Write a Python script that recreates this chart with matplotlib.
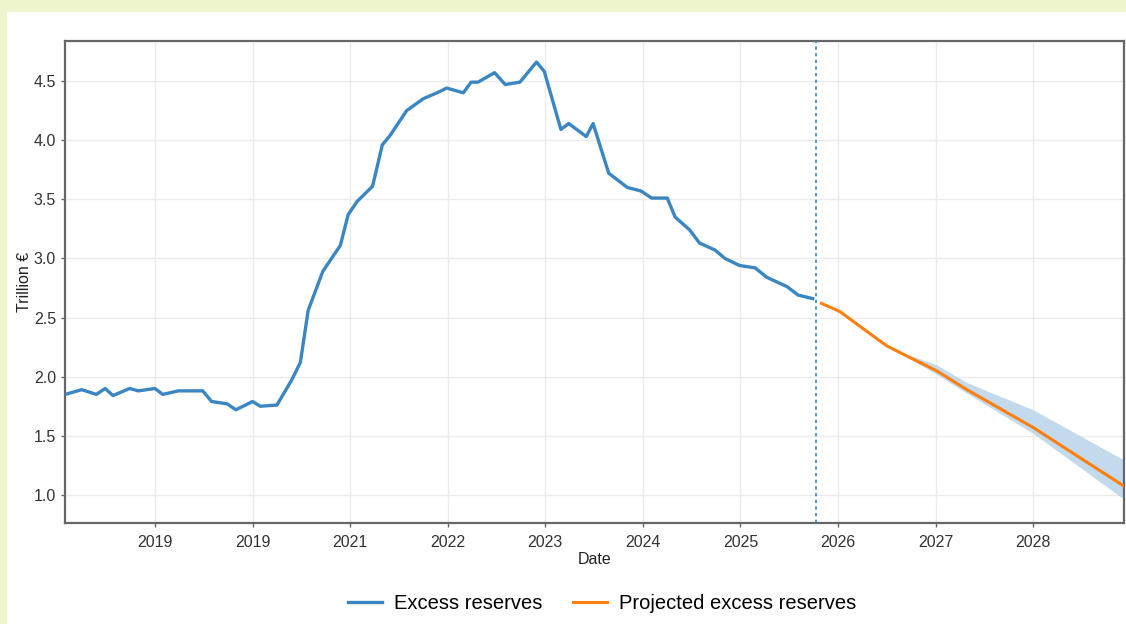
import matplotlib.pyplot as plt
from matplotlib.patches import Rectangle

plt.rcParams['font.family'] = ['Liberation Sans', 'DejaVu Sans']

# observed excess reserves (decimal year, trillion EUR)
obs_year = [2018.08, 2018.25, 2018.40, 2018.49, 2018.57, 2018.74, 2018.83, 2019.00,
            2019.08, 2019.24, 2019.33, 2019.49, 2019.58, 2019.74, 2019.83, 2020.00,
            2020.08, 2020.25, 2020.40, 2020.49, 2020.57, 2020.72, 2020.90, 2020.98,
            2021.07, 2021.23, 2021.33, 2021.41, 2021.58, 2021.75, 2021.89, 2021.99,
            2022.16, 2022.24, 2022.31, 2022.48, 2022.59, 2022.74, 2022.91, 2022.99,
            2023.16, 2023.24, 2023.42, 2023.49, 2023.65, 2023.84, 2023.98, 2024.09,
            2024.25, 2024.33, 2024.48, 2024.58, 2024.74, 2024.84, 2024.99, 2025.15,
            2025.27, 2025.48, 2025.59, 2025.74]
obs_value = [1.85, 1.89, 1.85, 1.90, 1.84, 1.90, 1.88, 1.90,
             1.85, 1.88, 1.88, 1.88, 1.79, 1.77, 1.72, 1.79,
             1.75, 1.76, 1.97, 2.12, 2.56, 2.89, 3.11, 3.37,
             3.48, 3.61, 3.96, 4.04, 4.25, 4.35, 4.40, 4.44,
             4.40, 4.49, 4.49, 4.57, 4.47, 4.49, 4.66, 4.58,
             4.09, 4.14, 4.03, 4.14, 3.72, 3.60, 3.57, 3.51,
             3.51, 3.35, 3.24, 3.13, 3.07, 3.00, 2.94, 2.92,
             2.84, 2.76, 2.69, 2.66]

# projection
proj_year = [2025.83, 2026.02, 2026.25, 2026.50, 2026.74, 2027.01, 2027.32, 2028.00, 2028.92]
proj_value = [2.62, 2.55, 2.41, 2.26, 2.16, 2.05, 1.89, 1.57, 1.08]

band_year = [2026.50, 2026.74, 2027.01, 2027.32, 2028.00, 2028.92]
band_low = [2.26, 2.15, 2.02, 1.86, 1.52, 0.97]
band_high = [2.26, 2.18, 2.10, 1.95, 1.72, 1.30]

cutoff = 2025.77

tick_pos = [2019, 2020, 2021, 2022, 2023, 2024, 2025, 2026, 2027, 2028]
tick_lab = ['2019', '2019', '2021', '2022', '2023', '2024', '2025', '2026', '2027', '2028']

blue = '#3a86c2'
orange = '#ff7f0e'

fig = plt.figure(figsize=(11.26, 6.24), dpi=100)
fig.patch.set_facecolor('#eef5cc')
fig.patches.append(Rectangle((7 / 1126, 0), 1, 612 / 624, transform=fig.transFigure,
                             facecolor='white', edgecolor='none', zorder=-10))

ax = fig.add_axes([0.0577, 0.1619, 0.9405, 0.7724])
ax.set_facecolor('white')

ax.fill_between(band_year, band_low, band_high, color='#c3d9ec', linewidth=0, zorder=2)
ax.plot(obs_year, obs_value, color=blue, lw=2.4, label='Excess reserves', zorder=3)
ax.plot(proj_year, proj_value, color=orange, lw=2.2, label='Projected excess reserves', zorder=4)
ax.axvline(cutoff, color=blue, lw=1.2, ls=(0, (2, 2)), zorder=3)

ax.set_xlim(2018.078, 2028.93)
ax.set_ylim(0.763, 4.838)
ax.set_xticks(tick_pos)
ax.set_xticklabels(tick_lab)
ax.set_yticks([1.0, 1.5, 2.0, 2.5, 3.0, 3.5, 4.0, 4.5])
ax.grid(True, color='#ebebeb', lw=1)
ax.set_axisbelow(True)

for s in ax.spines.values():
    s.set_color('#666666')
    s.set_linewidth(1.6)
ax.tick_params(colors='#333333', labelsize=11.5, length=3, width=1, color='#666666')
ax.tick_params(axis='x', pad=6)

ax.set_xlabel('Date', fontsize=11.5, color='#222222', labelpad=1)
ax.set_ylabel('Trillion €', fontsize=11.5, color='#222222', labelpad=1)

fig.legend(loc='lower center', bbox_to_anchor=(0.535, -0.012), ncol=2, frameon=False,
           fontsize=14.5, handlelength=1.7, handletextpad=0.6, columnspacing=1.5)

fig.savefig('out.png', dpi=100, facecolor=fig.get_facecolor())
